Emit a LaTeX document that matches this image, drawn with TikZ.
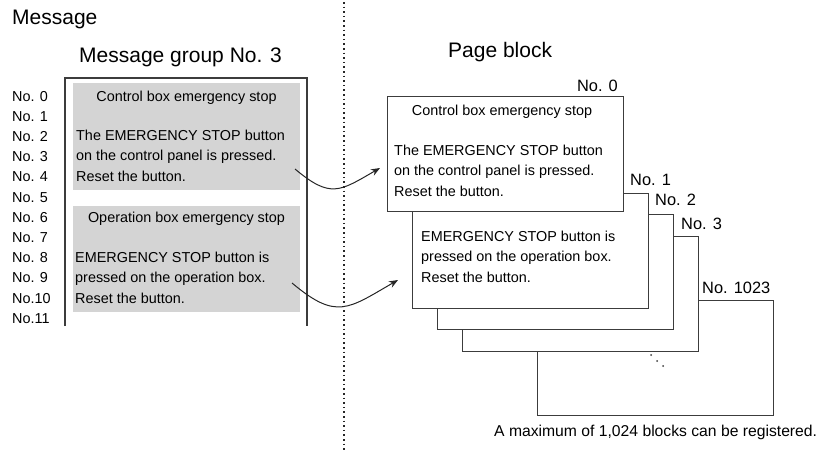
\documentclass[tikz,border=0pt]{standalone}
\usepackage{fontspec}
\setmainfont{Liberation Sans}
\usepackage{tikz}
\usetikzlibrary{arrows.meta, positioning}

\definecolor{msggray}{RGB}{212,212,212}
\definecolor{linegray}{RGB}{60,60,60}

\begin{document}
\begin{tikzpicture}[
  x=1pt, y=-1pt,
  heading/.style={font=\fontsize{21}{24}\selectfont, inner sep=0pt, anchor=base west},
  smalltxt/.style={font=\fontsize{14.4}{20.2}\selectfont, inner sep=0pt},
  msglines/.style={smalltxt, align=left, anchor=base west},
  rowlabel/.style={smalltxt, anchor=base west},
  pagelabel/.style={font=\fontsize{16.4}{20}\selectfont, inner sep=0pt, anchor=base west},
  msgblock/.style={fill=msggray, inner sep=0pt, anchor=north west,
    minimum width=227pt, minimum height=107pt},
  pageblk/.style={draw=linegray, line width=1pt, fill=white, inner sep=0pt,
    anchor=north west, minimum width=236pt, minimum height=115pt},
  jump/.style={-{Stealth[length=9pt, width=7pt]}, line width=1pt, draw=black!85}
]
  \useasboundingbox (0,0) rectangle (829,453);

  % left half: message group
  \node[heading] (msgtitle) at (12,24) {Message};
  \node[heading] (grouptitle) at (79,62) {Message group No. 3};
  \draw[linegray, line width=1.2pt] (65,326) |- (307,78) -- (307,326);

  \node[msgblock] (grayA) at (73,83) {};
  \node[msgblock, minimum height=106pt] (grayB) at (73,206) {};

  \foreach \i in {0,...,11}
    \node[rowlabel] (row\i) at (12,101+20.2*\i)
      {\ifnum\i<10 No. \i\else No.\i\fi};

  % base anchor of a multi-line node sits on its last line
  \node[smalltxt, anchor=base] (headA) at (186.5,101) {Control box emergency stop};
  \node[msglines] (bodyA) at (76,181)
    {The EMERGENCY STOP button\\on the control panel is pressed.\\Reset the button.};
  \node[smalltxt, anchor=base] (headB) at (186.5,222) {Operation box emergency stop};
  \node[msglines] (bodyB) at (75,303)
    {EMERGENCY STOP button is\\pressed on the operation box.\\Reset the button.};

  % divider
  \draw[black!85, line width=1.2pt, dash pattern=on 1.6pt off 3pt] (344,2) -- (344,452);

  % right half: page blocks, back to front
  \node[heading] (pagetitle) at (448,57) {Page block};
  \node[pageblk] (p1023) at (537,300) {};
  \node[pageblk] (p3) at (462,236) {};
  \node[pageblk] (p2) at (437,214) {};
  \node[pageblk] (p1) at (412,193) {};
  \node[pageblk] (p0) at (387,96) {};

  \node[pagelabel, anchor=base east] (lab0) at (618,91) {No. 0};
  \node[pagelabel] (lab1) at (630,185) {No. 1};
  \node[pagelabel] (lab2) at (655,205) {No. 2};
  \node[pagelabel] (lab3) at (681,229) {No. 3};
  \node[pagelabel] (lab1023) at (702,293) {No. 1023};

  \node[smalltxt, anchor=base] (headP0) at (502,115) {Control box emergency stop};
  \node[msglines] (bodyP0) at (394,196)
    {The EMERGENCY STOP button\\on the control panel is pressed.\\Reset the button.};
  \node[msglines] (bodyP1) at (421,282)
    {EMERGENCY STOP button is\\pressed on the operation box.\\Reset the button.};

  \foreach \dx/\dy in {651/355, 657/361, 663/366}
    \fill[linegray] (\dx,\dy) circle (1pt);

  \node[font=\fontsize{15.7}{20}\selectfont, inner sep=0pt, anchor=base west]
    (maxnote) at (494,436) {A maximum of 1,024 blocks can be registered.};

  % arrows
  \coordinate (fromA) at (295,169);
  \coordinate (toA) at (380,168);
  \coordinate (fromB) at (292,283);
  \coordinate (toB) at (398,280);
  \draw[jump] (fromA) to[out=-40, in=210, looseness=1.4] (toA);
  \draw[jump] (fromB) to[out=-40, in=210, looseness=1.4] (toB);
\end{tikzpicture}
\end{document}
